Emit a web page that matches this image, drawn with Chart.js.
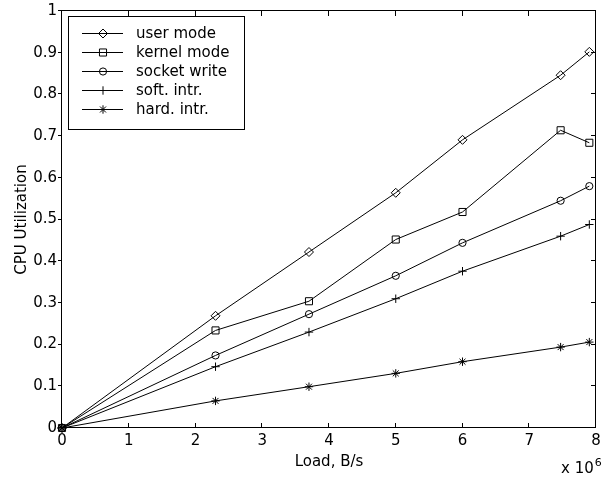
<!DOCTYPE html>
<html>
<head>
<meta charset="utf-8">
<script src="https://cdn.jsdelivr.net/npm/chart.js@4/dist/chart.umd.min.js"></script>
<style>
  html, body { margin: 0; padding: 0; background: #fff; }
  #wrap { width: 602px; height: 478px; }
</style>
</head>
<body>
<div id="wrap"><canvas id="cpuChart"></canvas></div>
<script>
// offered load, in units of 10^6 B/s
var loads = [0, 2.3, 3.7, 5.0, 6.0, 7.47, 7.9];

// CPU utilization per component
var userMode    = [0, 0.269, 0.422, 0.564, 0.691, 0.846, 0.902];
var kernelMode  = [0, 0.234, 0.304, 0.452, 0.518, 0.714, 0.684];
var socketWrite = [0, 0.174, 0.273, 0.365, 0.444, 0.545, 0.580];
var softIntr    = [0, 0.147, 0.230, 0.310, 0.376, 0.460, 0.488];
var hardIntr    = [0, 0.065, 0.099, 0.131, 0.159, 0.194, 0.206];

var seriesNames = ['user mode', 'kernel mode', 'socket write', 'soft. intr.', 'hard. intr.'];
var seriesValues = [userMode, kernelMode, socketWrite, softIntr, hardIntr];
var markerStyles = ['rectRot', 'rect', 'circle', 'cross', 'star'];
var markerSizes = [4.5, 5, 3.6, 4.2, 4.2];

var xTicks = [0, 1, 2, 3, 4, 5, 6, 7, 8];
var yTicks = [0, 0.1, 0.2, 0.3, 0.4, 0.5, 0.6, 0.7, 0.8, 0.9, 1];
var yTickLabels = ['0', '0.1', '0.2', '0.3', '0.4', '0.5', '0.6', '0.7', '0.8', '0.9', '1'];

var FONT = 'DejaVu Sans';

var datasets = seriesNames.map(function(name, i) {
    return {
        label: name,
        data: loads.map(function(x, j) { return { x: x, y: seriesValues[i][j] }; }),
        showLine: true,
        borderColor: '#000',
        borderWidth: 1,
        pointStyle: markerStyles[i],
        pointRadius: markerSizes[i],
        pointBorderColor: '#000',
        pointBorderWidth: 1,
        pointBackgroundColor: 'rgba(0,0,0,0)',
        clip: false
    };
});

// frame with MATLAB-like tick marks, plus the boxed legend inside the plot
var axesBox = {
    id: 'axesBox',
    beforeDatasetsDraw: function(chart) {
        var ctx = chart.ctx, a = chart.chartArea;
        var sx = chart.scales.x, sy = chart.scales.y;
        ctx.save();
        ctx.strokeStyle = '#000';
        ctx.lineWidth = 1;
        ctx.strokeRect(a.left - 0.5, a.top - 0.5, a.right - a.left, a.bottom - a.top);
        ctx.beginPath();
        xTicks.forEach(function(v) {
            var px = Math.round(sx.getPixelForValue(v)) - 0.5;
            ctx.moveTo(px, a.bottom); ctx.lineTo(px, a.bottom - 5);
            ctx.moveTo(px, a.top); ctx.lineTo(px, a.top + 5);
        });
        yTicks.forEach(function(v) {
            var py = Math.round(sy.getPixelForValue(v)) - 0.5;
            ctx.moveTo(a.left - 4, py); ctx.lineTo(a.left, py);
            ctx.moveTo(a.right, py); ctx.lineTo(a.right - 5, py);
        });
        ctx.stroke();

        // axis multiplier
        ctx.fillStyle = '#000';
        ctx.textBaseline = 'alphabetic';
        ctx.font = '15px "' + FONT + '"';
        ctx.fillText('x 10', 561, 473);
        var w = ctx.measureText('x 10').width;
        ctx.font = '11px "' + FONT + '"';
        ctx.fillText('6', 561 + w + 1, 466);
        ctx.restore();
    },
    afterDatasetsDraw: function(chart) {
        var ctx = chart.ctx;
        var lx = 68, ly = 16, lw = 176, lh = 113;
        ctx.save();
        ctx.fillStyle = '#fff';
        ctx.fillRect(lx, ly, lw, lh);
        ctx.strokeStyle = '#000';
        ctx.lineWidth = 1;
        ctx.strokeRect(lx + 0.5, ly + 0.5, lw, lh);
        chart.data.datasets.forEach(function(ds, i) {
            var y = 33 + i * 19;
            ctx.strokeStyle = '#000';
            ctx.beginPath();
            ctx.moveTo(82, y + 0.5);
            ctx.lineTo(123, y + 0.5);
            ctx.stroke();
            ctx.fillStyle = 'rgba(0,0,0,0)';
            Chart.helpers.drawPoint(ctx, {
                pointStyle: ds.pointStyle,
                radius: ds.pointRadius,
                rotation: 0,
                borderWidth: 1
            }, 103, y + 0.5);
            ctx.fillStyle = '#000';
            ctx.font = '15px "' + FONT + '"';
            ctx.textBaseline = 'middle';
            ctx.fillText(ds.label, 136, y + 1);
        });
        ctx.restore();
    }
};

var ctx = document.getElementById('cpuChart').getContext('2d');
var cpuChart = new Chart(ctx, {
    type: 'scatter',
    data: { datasets: datasets },
    options: {
        responsive: true,
        maintainAspectRatio: false,
        animation: false,
        layout: { padding: { left: 0, top: 11, right: 2, bottom: 0 } },
        plugins: {
            legend: { display: false },
            tooltip: { enabled: false }
        },
        scales: {
            x: {
                type: 'linear',
                min: 0,
                max: 8,
                afterBuildTicks: function(scale) {
                    scale.ticks = xTicks.map(function(v) { return { value: v }; });
                },
                afterFit: function(scale) {
                    scale.height = 50;
                    scale.paddingLeft = 0;
                    scale.paddingRight = 0;
                },
                ticks: {
                    color: '#000',
                    font: { family: FONT, size: 15 },
                    padding: 4,
                    maxRotation: 0,
                    autoSkip: false,
                    callback: function(v) { return String(v); }
                },
                grid: { display: false, drawTicks: false },
                border: { display: false },
                title: {
                    display: true,
                    text: 'Load, B/s',
                    color: '#000',
                    font: { family: FONT, size: 15 },
                    padding: { top: 0, bottom: 7 }
                }
            },
            y: {
                type: 'linear',
                min: 0,
                max: 1,
                afterBuildTicks: function(scale) {
                    scale.ticks = yTicks.map(function(v) { return { value: v }; });
                },
                afterFit: function(scale) {
                    scale.width = 62;
                    scale.paddingTop = 0;
                    scale.paddingBottom = 0;
                },
                ticks: {
                    color: '#000',
                    font: { family: FONT, size: 15 },
                    padding: 5,
                    autoSkip: false,
                    callback: function(v, i) { return yTickLabels[i]; }
                },
                grid: { display: false, drawTicks: false },
                border: { display: false },
                title: {
                    display: true,
                    text: 'CPU Utilization',
                    color: '#000',
                    font: { family: FONT, size: 15 },
                    padding: { top: 13, bottom: 0 }
                }
            }
        }
    },
    plugins: [axesBox]
});
</script>
</body>
</html>
